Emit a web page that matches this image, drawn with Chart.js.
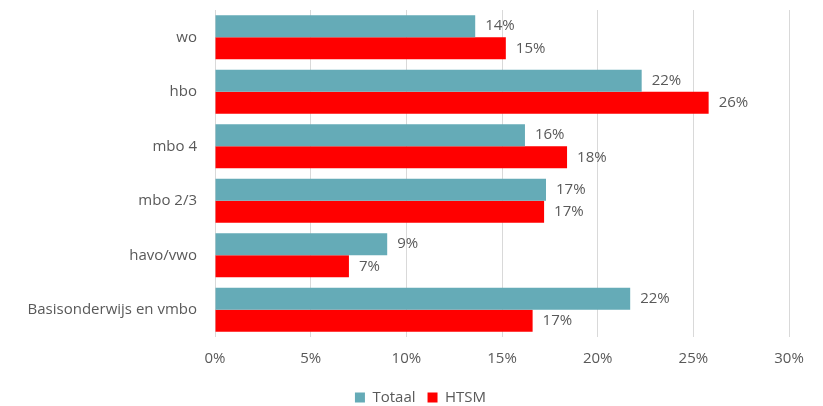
<!DOCTYPE html>
<html>
<head>
<meta charset="utf-8">
<script src="https://cdn.jsdelivr.net/npm/chart.js@4"></script>
<style>
  html, body { margin: 0; padding: 0; background: #fff; }
  #wrap { width: 823px; height: 406px; }
</style>
</head>
<body>
<div id="wrap"><canvas id="chart"></canvas></div>
<script>
const categories = ['wo', 'hbo', 'mbo 4', 'mbo 2/3', 'havo/vwo', 'Basisonderwijs en vmbo'];
const totaal = [13.6, 22.3, 16.2, 17.3, 9.0, 21.7];
const htsm = [15.2, 25.8, 18.4, 17.2, 7.0, 16.6];
const xTicks = [0, 5, 10, 15, 20, 25, 30];

const fontFam = '"Open Sans", "Noto Sans", sans-serif';
const textColor = '#595959';

// labels behind each bar end
const barLabels = {
    id: 'barLabels',
    afterDatasetsDraw(chart) {
        const ctx = chart.ctx;
        ctx.save();
        ctx.font = '15px ' + fontFam;
        ctx.fillStyle = textColor;
        ctx.textBaseline = 'middle';
        ctx.textAlign = 'left';
        chart.data.datasets.forEach((ds, i) => {
            chart.getDatasetMeta(i).data.forEach((bar, j) => {
                ctx.fillText(Math.round(ds.data[j]) + '%', bar.x + 10, bar.y);
            });
        });
        ctx.restore();
    }
};

// legend sits a bit right of the canvas centre, like the original
const shiftLegend = {
    id: 'shiftLegend',
    afterLayout(chart) {
        chart.legend.left += 26;
        chart.legend.right += 26;
    }
};

new Chart(document.getElementById('chart'), {
    type: 'bar',
    data: {
        labels: categories,
        datasets: [
            { label: 'Totaal', data: totaal, backgroundColor: '#65ABB7', borderWidth: 0 },
            { label: 'HTSM', data: htsm, backgroundColor: '#FF0000', borderWidth: 0 }
        ]
    },
    options: {
        indexAxis: 'y',
        responsive: true,
        maintainAspectRatio: false,
        animation: false,
        layout: { padding: { top: 10, right: 34, left: 0, bottom: -9 } },
        datasets: { bar: { categoryPercentage: 0.81, barPercentage: 1 } },
        scales: {
            x: {
                min: 0,
                max: 30,
                afterBuildTicks(axis) { axis.ticks = xTicks.map(v => ({ value: v })); },
                afterFit(axis) { axis.height -= 3; },
                ticks: {
                    callback: v => v + '%',
                    color: textColor,
                    font: { family: fontFam, size: 15 },
                    padding: 13
                },
                grid: { color: '#D9D9D9', drawTicks: false },
                border: { display: false }
            },
            y: {
                afterFit(axis) {
                    axis.width = 215;
                    axis.paddingTop = 0;
                    axis.paddingBottom = 0;
                },
                ticks: {
                    color: textColor,
                    font: { family: fontFam, size: 15 },
                    padding: 18
                },
                grid: { display: false, drawTicks: false },
                border: { display: false }
            }
        },
        plugins: {
            legend: {
                position: 'bottom',
                labels: {
                    color: textColor,
                    font: { family: fontFam, size: 15 },
                    boxWidth: 10,
                    boxHeight: 10,
                    padding: 12
                }
            },
            tooltip: { enabled: false }
        }
    },
    plugins: [barLabels, shiftLegend]
});
</script>
</body>
</html>
